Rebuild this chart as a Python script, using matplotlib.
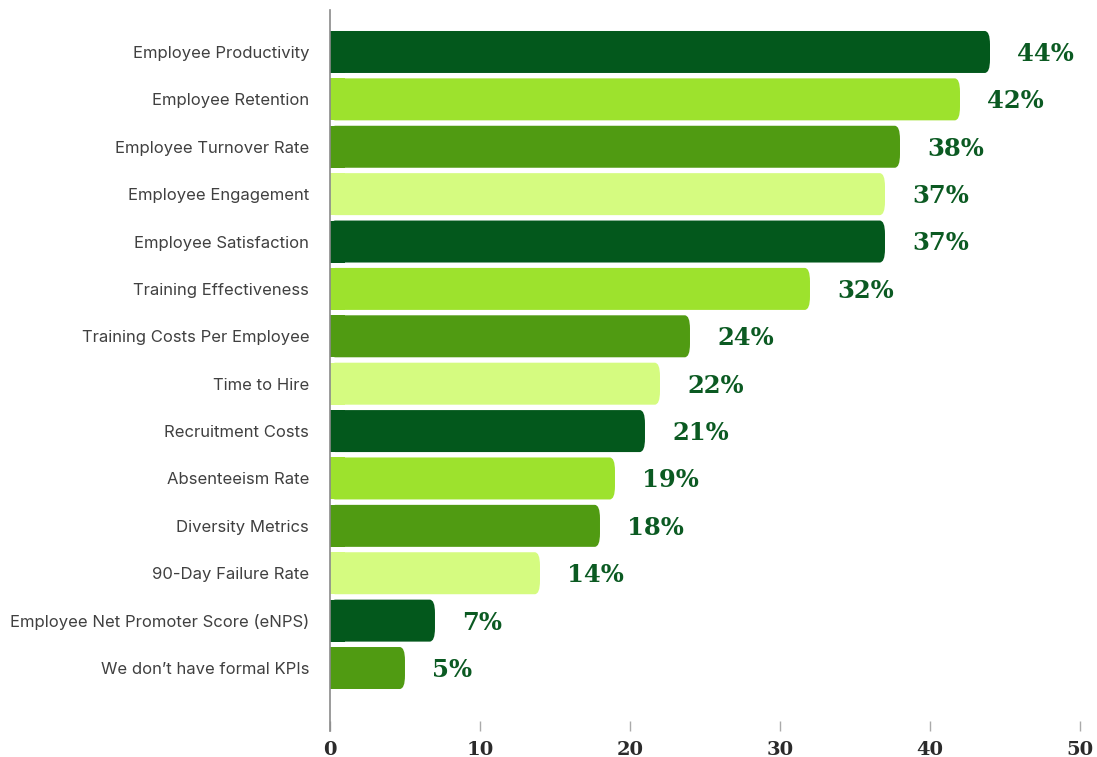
import matplotlib.pyplot as plt
from matplotlib.patches import FancyBboxPatch

# data
kpis = [
    "Employee Productivity",
    "Employee Retention",
    "Employee Turnover Rate",
    "Employee Engagement",
    "Employee Satisfaction",
    "Training Effectiveness",
    "Training Costs Per Employee",
    "Time to Hire",
    "Recruitment Costs",
    "Absenteeism Rate",
    "Diversity Metrics",
    "90-Day Failure Rate",
    "Employee Net Promoter Score (eNPS)",
    "We don\u2019t have formal KPIs",
]
shares = [44, 42, 38, 37, 37, 32, 24, 22, 21, 19, 18, 14, 7, 5]

dark, lime, mid, pale = "#03581c", "#9de22d", "#509b12", "#d5fb80"
bar_colors = [dark, lime, mid, pale, dark, lime, mid, pale,
              dark, lime, mid, pale, dark, mid]

fig = plt.figure(figsize=(10.97, 7.57), dpi=100)
ax = fig.add_axes([0.3008, 0.0343, 0.6837, 0.9525])

ypos = list(range(len(kpis)))
bar_h = 0.886
for i, v in enumerate(shares):
    c = bar_colors[i]
    # rounded bar end
    patch = FancyBboxPatch((0, i - bar_h / 2), v, bar_h,
                           boxstyle="round,pad=0,rounding_size=0.35",
                           mutation_aspect=0.81,
                           facecolor=c, edgecolor="none", zorder=2)
    ax.add_patch(patch)
    # square off the left side
    ax.barh(i, min(v, 1), height=bar_h, color=c, zorder=2)
    ax.text(v + 1.8, i + 0.04, f"{v}%", va="center", ha="left",
            fontsize=17.5, fontweight="bold", family="DejaVu Serif",
            color="#0b5a22")

ax.set_xlim(0, 50)
ax.set_ylim(len(kpis) - 1 + 1.33, -0.886)
ax.set_yticks(ypos)
ax.set_yticklabels(kpis, family=["Inter", "DejaVu Sans"], fontsize=12,
                   color="#404040")
ax.tick_params(axis="y", length=0, pad=15)
ax.set_xticks([0, 10, 20, 30, 40, 50])
ax.tick_params(axis="x", direction="in", length=7, width=1, color="#aaaaaa",
               pad=7)
for lab in ax.get_xticklabels():
    lab.set_family("DejaVu Serif")
    lab.set_fontweight("bold")
    lab.set_fontsize(14)
    lab.set_color("#2b2b2b")

for s in ["top", "right", "bottom"]:
    ax.spines[s].set_visible(False)
ax.spines["left"].set_color("#8a8a8a")
ax.spines["left"].set_linewidth(1.2)

fig.savefig("out.png", dpi=100)
